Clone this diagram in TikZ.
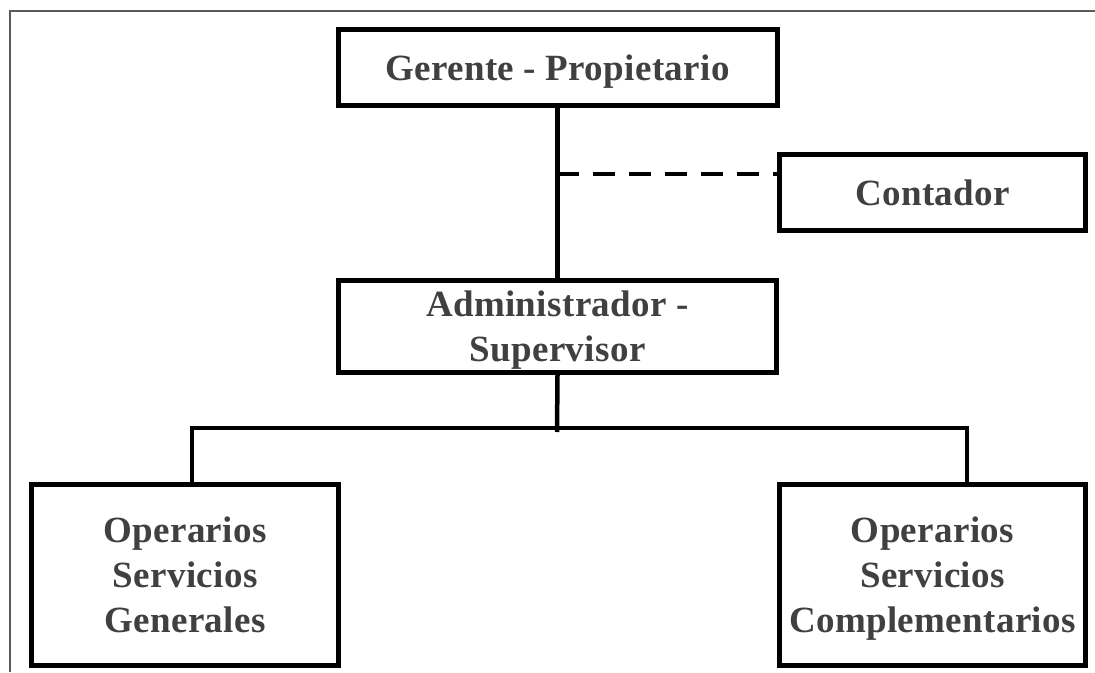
\documentclass[tikz,border=0pt]{standalone}
\usepackage{fontspec}
\setmainfont{Liberation Serif}
\newfontfamily\labfont[BoldFont={Liberation Serif Bold}, LetterSpace=1]{Liberation Serif}
\definecolor{txtgray}{RGB}{64,64,64}
\definecolor{framegray}{RGB}{90,90,90}
\tikzset{
  orgbox/.style={draw=black, line width=5pt, rectangle, align=center,
    text=txtgray, font=\labfont\bfseries\fontsize{37}{45}\selectfont,
    text depth=0pt, inner sep=0pt},
  conn/.style={draw=black, line width=4.5pt, line join=miter},
  dashconn/.style={draw=black, line width=4pt, dash pattern=on 22pt off 14pt}
}
\begin{document}
\begin{tikzpicture}[x=1pt,y=-1pt]
\useasboundingbox (0,0) rectangle (1095,672);
\fill[white] (0,0) rectangle (1095,672);
\draw[framegray, line width=1.5pt] (10,672) -- (10,11) -- (1095,11);

\node[orgbox, minimum width=439pt, minimum height=76pt] (ger) at (557.5,67.5) {Gerente - Propietario};
\node[orgbox, minimum width=306pt, minimum height=76pt] (con) at (932.5,192.5) {Contador};
\node[orgbox, minimum width=438pt, minimum height=92pt] (adm) at (557.5,326.5) {Administrador -\\Supervisor};
\node[orgbox, minimum width=307pt, minimum height=181pt] (opg) at (185,575) {Operarios\\Servicios\\Generales};
\node[orgbox, minimum width=306pt, minimum height=181pt] (opc) at (932.5,575) {Operarios\\Servicios\\Complementarios};

\coordinate (dsh) at (557,174);
\coordinate (bj) at (557,432);
\coordinate (bl) at (192,428);
\coordinate (br) at (967,428);

\draw[conn] (ger.south) -- (adm.north);
\draw[dashconn] (dsh) -- (dsh -| con.west);
\draw[conn] (adm.south) -- (bj);
\draw[conn] (bl |- opg.north) -- (bl) -- (br) -- (br |- opc.north);
\end{tikzpicture}
\end{document}
